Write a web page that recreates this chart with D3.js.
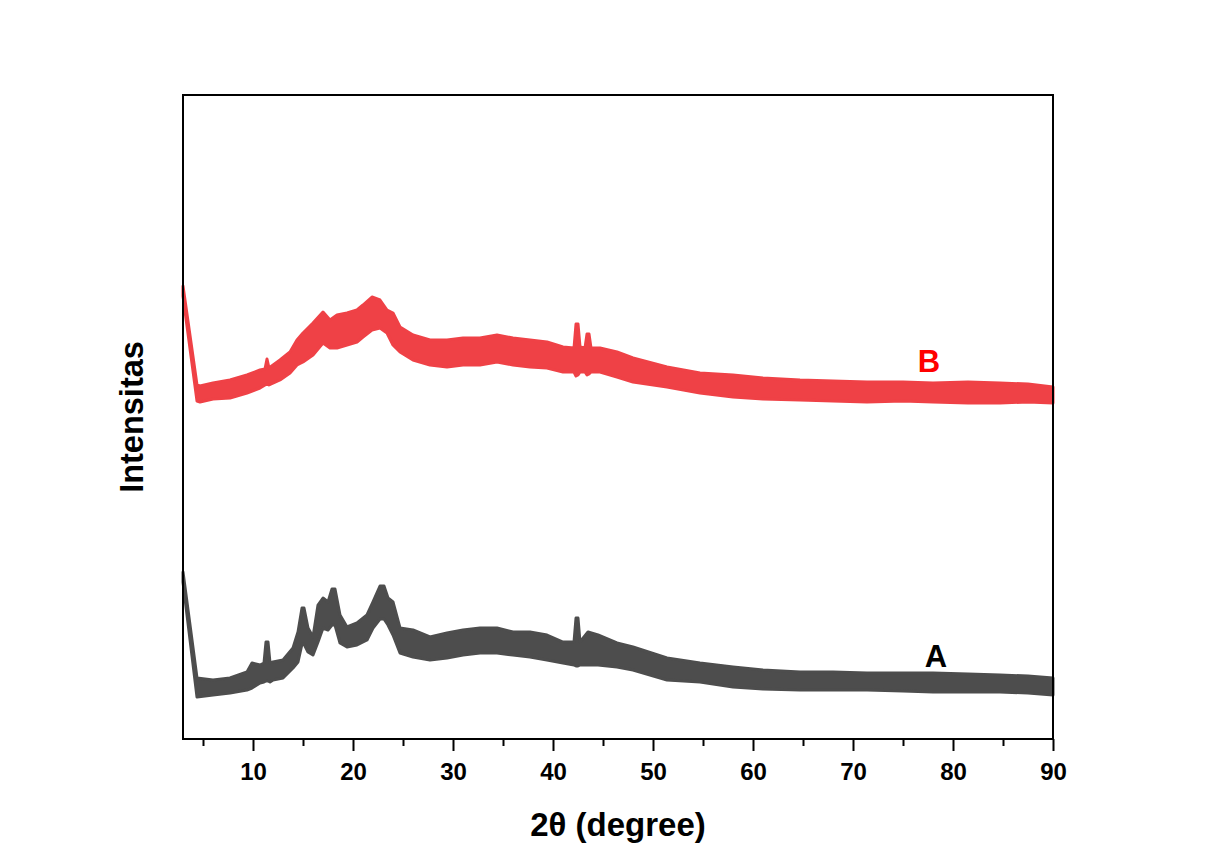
<!DOCTYPE html>
<html>
<head>
<meta charset="utf-8">
<script src="https://cdn.jsdelivr.net/npm/d3@7"></script>
<style>
  body { margin: 0; background: #fff; }
  text { font-family: "Liberation Sans", Arial, sans-serif; font-weight: bold; }
</style>
</head>
<body>
<div id="graph"></div>
<script>
// XRD patterns, intensity in arbitrary counts, band = noise envelope (upper / lower)
const angleB = [3.0, 4.4, 4.7, 6.0, 7.7, 9.4, 10.7, 11.2, 11.4, 11.6, 12.7, 13.7, 14.4, 15.0, 16.0, 17.0, 17.7, 18.4, 19.4, 20.4, 21.0, 21.9, 22.7, 23.4, 24.0, 24.7, 26.0, 27.7, 29.4, 31.0, 32.7, 34.4, 36.0, 37.7, 39.4, 41.0, 42.1, 42.3, 42.5, 42.7, 43.2, 43.4, 43.6, 43.8, 44.7, 46.4, 48.0, 51.4, 54.7, 58.0, 61.0, 64.7, 68.0, 71.4, 75.0, 78.0, 81.5, 84.7, 87.5, 90.0];
const upperB = [2265, 1770, 1765, 1780, 1795, 1820, 1845, 1850, 1900, 1855, 1895, 1935, 1995, 2030, 2080, 2135, 2095, 2120, 2130, 2145, 2170, 2210, 2195, 2145, 2130, 2060, 2020, 1995, 1995, 2005, 2005, 2020, 2005, 1995, 1985, 1960, 1955, 2075, 2075, 1960, 1955, 2025, 2025, 1955, 1955, 1935, 1905, 1860, 1830, 1820, 1805, 1795, 1790, 1785, 1785, 1780, 1785, 1780, 1775, 1760];
const lowerB = [2215, 1690, 1685, 1700, 1705, 1730, 1755, 1770, 1775, 1770, 1795, 1830, 1870, 1885, 1920, 1980, 1955, 1955, 1970, 1985, 2010, 2045, 2055, 2030, 1970, 1935, 1895, 1870, 1860, 1870, 1870, 1885, 1870, 1860, 1855, 1835, 1835, 1815, 1820, 1835, 1835, 1820, 1825, 1835, 1835, 1810, 1785, 1760, 1730, 1710, 1700, 1695, 1690, 1685, 1690, 1685, 1680, 1680, 1685, 1680];

const angleA = [3.0, 4.4, 6.0, 7.7, 9.4, 9.9, 10.7, 11.1, 11.3, 11.5, 11.7, 12.0, 13.0, 14.0, 14.5, 14.9, 15.1, 15.5, 16.0, 16.5, 17.0, 17.5, 17.9, 18.2, 18.7, 19.4, 20.4, 21.4, 22.0, 22.7, 23.1, 23.5, 24.0, 24.7, 26.0, 27.7, 29.4, 31.0, 32.7, 34.4, 36.0, 37.7, 39.4, 41.0, 42.1, 42.3, 42.5, 42.7, 43.5, 44.5, 46.4, 48.0, 51.4, 54.7, 58.0, 61.0, 64.7, 68.0, 71.4, 75.0, 78.0, 81.5, 84.7, 87.5, 90.0];
const upperA = [835, 305, 295, 305, 335, 380, 370, 380, 485, 485, 380, 385, 395, 455, 535, 655, 655, 555, 510, 670, 705, 685, 750, 750, 620, 560, 580, 620, 685, 765, 765, 705, 685, 555, 545, 510, 530, 545, 555, 555, 535, 535, 520, 485, 485, 605, 605, 485, 535, 520, 480, 460, 405, 380, 360, 345, 335, 335, 330, 330, 330, 325, 320, 315, 305];
const lowerA = [785, 210, 220, 230, 245, 255, 280, 285, 290, 290, 285, 295, 305, 355, 385, 475, 475, 435, 420, 485, 555, 545, 570, 570, 480, 460, 470, 495, 555, 600, 600, 570, 520, 430, 410, 395, 405, 420, 430, 430, 420, 410, 395, 380, 370, 365, 365, 370, 370, 370, 360, 345, 295, 285, 260, 250, 245, 245, 245, 240, 235, 235, 235, 230, 220];

const majorTicks = [10, 20, 30, 40, 50, 60, 70, 80, 90];
const minorTicks = [5, 15, 25, 35, 45, 55, 65, 75, 85];

const margin = {top: 95, right: 174, bottom: 127, left: 183},
	width = 1227 - margin.left - margin.right,
	height = 866 - margin.top - margin.bottom;

const xScale = d3.scaleLinear().domain([3, 90]).range([0, width]);
const yScale = d3.scaleLinear().domain([0, 3220]).range([height, 0]);

const svg = d3.select("#graph")
	.append("svg")
	.attr("width", 1227)
	.attr("height", 866);

const g = svg.append("g")
	.attr("transform", "translate(" + margin.left + "," + margin.top + ")");

const series = [
	{name: "A", angle: angleA, upper: upperA, lower: lowerA, color: "#4d4d4d", label: "#000000", at: 78.3, ly: 360},
	{name: "B", angle: angleB, upper: upperB, lower: lowerB, color: "#ef4146", label: "#ff0000", at: 77.6, ly: 1835}
];

const area = d3.area()
	.x((d) => xScale(d.x))
	.y0((d) => yScale(d.lo))
	.y1((d) => yScale(d.hi));

series.forEach((s) => {
	const pts = s.angle.map((x, i) => ({x: x, hi: s.upper[i], lo: s.lower[i]}));
	g.append("path")
		.datum(pts)
		.attr("d", area)
		.attr("fill", s.color)
		.attr("stroke", s.color)
		.attr("stroke-width", 3)
		.attr("stroke-linejoin", "round");
});

// curve labels
series.forEach((s) => {
	g.append("text")
		.attr("x", xScale(s.at))
		.attr("y", yScale(s.ly))
		.attr("text-anchor", "middle")
		.attr("font-size", 31)
		.attr("fill", s.label)
		.text(s.name);
});

// x axis, major + minor ticks
const xAxis = d3.axisBottom(xScale).tickValues(majorTicks).tickSize(12).tickPadding(12);
const xAxisG = g.append("g")
	.attr("transform", "translate(0," + height + ")")
	.call(xAxis);
xAxisG.select(".domain").remove();
xAxisG.selectAll("line").attr("stroke", "#000").attr("stroke-width", 2);
xAxisG.selectAll("text").attr("font-size", 24).attr("fill", "#000");

g.append("g")
	.attr("transform", "translate(0," + height + ")")
	.call(d3.axisBottom(xScale).tickValues(minorTicks).tickSize(7).tickFormat(""))
	.call((a) => a.select(".domain").remove())
	.selectAll("line").attr("stroke", "#000").attr("stroke-width", 2);

// frame
g.append("rect")
	.attr("width", width)
	.attr("height", height)
	.attr("fill", "none")
	.attr("stroke", "#000")
	.attr("stroke-width", 2);

g.append("text")
	.attr("x", width / 2)
	.attr("y", height + 97)
	.attr("text-anchor", "middle")
	.attr("font-size", 33)
	.text("2θ (degree)");

g.append("text")
	.attr("transform", "translate(-40," + (height / 2) + ") rotate(-90)")
	.attr("text-anchor", "middle")
	.attr("font-size", 32.5)
	.text("Intensitas");
</script>
</body>
</html>
